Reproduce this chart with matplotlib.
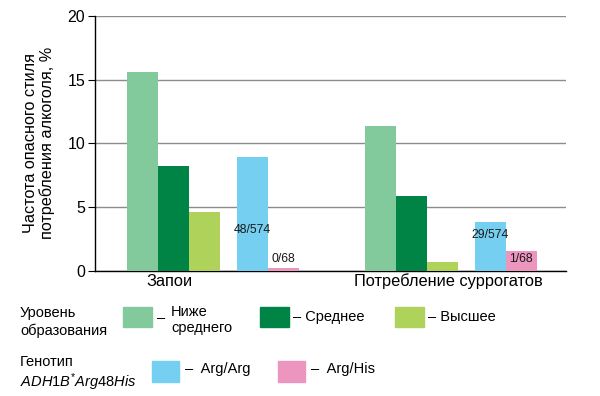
import matplotlib
matplotlib.use("Agg")
import matplotlib.pyplot as plt
from matplotlib.patches import Rectangle

plt.rcParams['font.family'] = ['Liberation Sans', 'DejaVu Sans']
plt.rcParams['mathtext.fontset'] = 'custom'
plt.rcParams['mathtext.rm'] = 'Liberation Sans'
plt.rcParams['mathtext.it'] = 'Liberation Sans:italic'

# Data
categories = ["Запои", "Потребление суррогатов"]
edu_names = ["Ниже\nсреднего", "Среднее", "Высшее"]
edu_values = [[15.6, 8.2, 4.6],      # Запои
              [11.4, 5.9, 0.7]]      # Потребление суррогатов
gene_names = ["Arg/Arg", "Arg/His"]
gene_values = [[8.95, 0.25],
               [3.85, 1.55]]
gene_labels = [["48/574", "0/68"],
               ["29/574", "1/68"]]

edu_colors = ["#82ca9c", "#008445", "#afd35a"]
gene_colors = ["#74cff0", "#ec95be"]

# layout
group_base = [1.03, 8.71]
gene_offset = 3.55
label_x = [2.42, 11.4]
gene_label_y = [[3.2, 0.95], [2.8, 0.95]]

fig = plt.figure(figsize=(6, 3.96), dpi=100)
ax = fig.add_axes([0.158, 0.316, 0.785, 0.644])

for g in range(len(categories)):
    base = group_base[g]
    for i, v in enumerate(edu_values[g]):
        ax.bar(base + i, v, width=1.0, align='edge', color=edu_colors[i], zorder=3)
    for j, v in enumerate(gene_values[g]):
        x0 = base + gene_offset + j
        ax.bar(x0, v, width=1.0, align='edge', color=gene_colors[j], zorder=3)
        ax.text(x0 + 0.5, gene_label_y[g][j], gene_labels[g][j], ha='center',
                va='center', fontsize=8.8, color='#1a1a1a', zorder=4)

ax.set_xlim(0, 15.2)
ax.set_ylim(0, 20)
ax.set_yticks([0, 5, 10, 15, 20])
ax.yaxis.grid(True, color='#8c8c8c', linewidth=1.0, zorder=0)
ax.set_xticks(label_x)
ax.set_xticklabels(categories, fontsize=11.8)
ax.tick_params(axis='x', length=0, pad=2)
ax.tick_params(axis='y', labelsize=11.5, length=5, width=0.8, pad=2)
for s in ['top', 'right']:
    ax.spines[s].set_visible(False)
ax.spines['left'].set_linewidth(1.0)
ax.spines['bottom'].set_linewidth(1.0)
ax.set_ylabel("Частота опасного стиля\nпотребления алкоголя, %", fontsize=11.7,
              labelpad=9, linespacing=1.1)

# Legend drawn by hand in figure coordinates
W, H = 600.0, 396.0


def patch(x, y, w, h, color):
    fig.patches.append(Rectangle((x / W, 1 - (y + h) / H), w / W, h / H,
                                 transform=fig.transFigure, color=color))


def txt(x, y, s, **kw):
    fig.text(x / W, 1 - y / H, s, ha='left', va='center', fontsize=10.5, **kw)


txt(20, 322, "Уровень\nобразования", linespacing=1.25)
edu_patch_x = [123, 260, 395]
for i, name in enumerate(edu_names):
    patch(edu_patch_x[i], 307, 29, 20, edu_colors[i])
    if "\n" in name:
        txt(edu_patch_x[i] + 34, 318, "–")
        txt(edu_patch_x[i] + 48, 320, name, linespacing=1.25)
    else:
        txt(edu_patch_x[i] + 33, 317, "– " + name)

txt(20, 362, "Генотип")
txt(20, 382, r"$\it{ADH1B}^{*}\it{Arg48His}$")
gene_patch_x = [152, 278]
for j, name in enumerate(gene_names):
    patch(gene_patch_x[j], 361, 27, 21, gene_colors[j])
    txt(gene_patch_x[j] + 33, 369, "–  " + name)

fig.savefig("out.png", dpi=100)
